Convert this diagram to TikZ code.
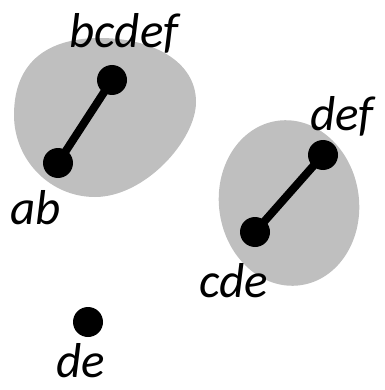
\documentclass[tikz,border=0pt]{standalone}
\usepackage{fontspec}
\setmainfont{Carlito}
\begin{document}
\begin{tikzpicture}[x=1pt,y=-1pt,
  dot/.style={circle,fill=black,inner sep=0pt,minimum size=30pt},
  lbl/.style={font=\fontsize{49}{49}\selectfont\itshape,inner sep=0pt,anchor=base},
  blob/.style={fill=black!25,draw=none},
  link/.style={line width=8pt}]
\useasboundingbox (0,0) rectangle (384,390);
\fill[blob] (14,115) .. controls (14,60) and (50,38) .. (100,38)
  .. controls (150,38) and (196,60) .. (196,102)
  .. controls (196,140) and (145,197) .. (95,197)
  .. controls (50,197) and (14,160) .. (14,115) -- cycle;
\fill[blob,rotate around={8:(289,203)}] (289,203) ellipse [x radius=70, y radius=83];
\node[dot] (bcdef) at (112,80) {};
\node[dot] (ab) at (58,163) {};
\node[dot] (def) at (323,155) {};
\node[dot] (cde) at (255,232) {};
\node[dot] (de) at (88,322) {};
\draw[link] (ab.center) -- (bcdef.center);
\draw[link] (cde.center) -- (def.center);
\node[lbl] (tbcdef) at (124,48) {bcdef};
\node[lbl] (tab) at (36,224) {ab};
\node[lbl] (tdef) at (342,131) {def};
\node[lbl] (tcde) at (234,297) {cde};
\node[lbl] (tde) at (81,377) {de};
\end{tikzpicture}
\end{document}
